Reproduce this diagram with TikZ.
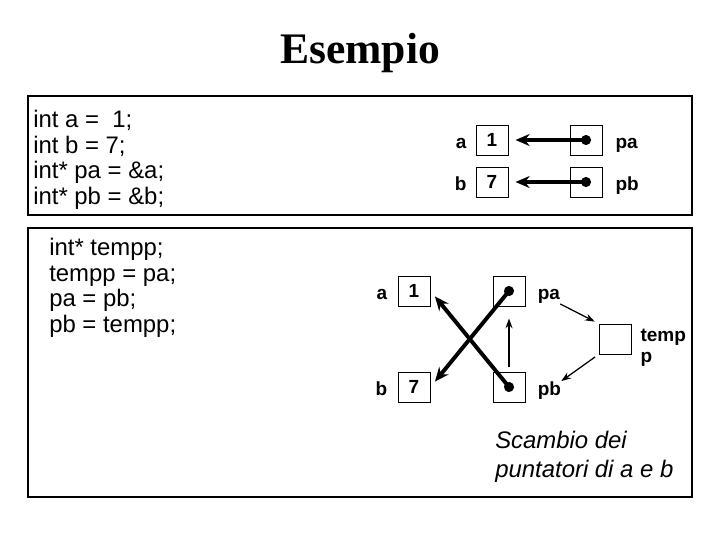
\documentclass[tikz,border=0pt]{standalone}
\usepackage{fontspec}
\setmainfont{Liberation Sans}
\newfontfamily\titlefont{Liberation Serif}
\usepackage{tikz}
\usetikzlibrary{arrows.meta,positioning}

\begin{document}
\begin{tikzpicture}[
    x=0.025cm, y=-0.025cm,
    panel/.style={draw, line width=0.8pt},
    cell/.style={rectangle, draw, line width=0.7pt, minimum width=0.8cm, minimum height=0.75cm, inner sep=0pt, font=\bfseries\fontsize{13.5}{16}\selectfont},
    lbl/.style={inner sep=0pt, text height=10pt, text depth=3pt, yshift=-2.5pt, font=\bfseries\fontsize{13.5}{15}\selectfont},
    code/.style={anchor=north west, inner sep=0pt, align=left, font=\fontsize{17}{18.2}\selectfont},
    ptr/.style={{Circle[length=7pt]}-{Stealth[length=10pt,width=8.5pt]}, line width=2.8pt, shorten <=-3.5pt, shorten >=5pt},
    move/.style={-{Stealth[length=7pt,width=5pt]}, line width=0.9pt},
]
\useasboundingbox (0,0) rectangle (720,540);

% Title
\node[anchor=base, inner sep=0pt, font=\titlefont\bfseries\fontsize{31}{36}\selectfont] (title) at (360,63) {Esempio};

% Panels
\draw[panel] (28,96) rectangle (692,215);
\draw[panel] (28,228) rectangle (692,497);

% Declarations
\node[code] (decl) at (33,110) {int a = \ 1;\\int b = 7;\\int* pa = \&a;\\int* pb = \&b;};

\node[cell] (a1) at (492,140) {1};
\node[cell] (pa1) at (586,140) {};
\node[cell] (b1) at (492,182) {7};
\node[cell] (pb1) at (586,182) {};
\node[lbl, left=0.22cm of a1] (la1) {a};
\node[lbl, right=0.32cm of pa1] (lpa1) {pa};
\node[lbl, left=0.22cm of b1] (lb1) {b};
\node[lbl, right=0.32cm of pb1] (lpb1) {pb};

\draw[ptr] (pa1.center) -- (a1.east);
\draw[ptr] (pb1.center) -- (b1.east);

% Swap
\node[code] (swap) at (49,238) {int* tempp;\\tempp = pa;\\pa = pb;\\pb = tempp;};

\node[cell] (a2) at (414,291) {1};
\node[cell] (pa2) at (509,291) {};
\node[cell] (b2) at (414,387) {7};
\node[cell] (pb2) at (509,387) {};
\node[cell] (tmp) at (615,339) {};
\node[lbl, left=0.25cm of a2] (la2) {a};
\node[lbl, right=0.3cm of pa2] (lpa2) {pa};
\node[lbl, left=0.25cm of b2] (lb2) {b};
\node[lbl, right=0.3cm of pb2] (lpb2) {pb};
\node[align=left, anchor=north west, inner sep=0pt, font=\bfseries\fontsize{13.5}{15}\selectfont] (ltmp) at ([xshift=0.22cm, yshift=-4pt]tmp.north east) {temp\\p};

\draw[ptr] (pa2.center) -- (b2.east);
\draw[ptr] (pb2.center) -- (a2.east);
\draw[move, shorten <=3.5pt, shorten >=8.5pt] (pb2.north) -- (pa2.south);
\draw[move, shorten >=3pt] (lpa2.south east) -- (tmp.north west);
\draw[move, shorten <=3pt] (tmp.south west) -- (lpb2.north east);

\node[anchor=north west, inner sep=0pt, align=left, font=\itshape\fontsize{17}{20.5}\selectfont] (note) at (495,431) {Scambio dei\\puntatori di a e b};

\end{tikzpicture}
\end{document}
